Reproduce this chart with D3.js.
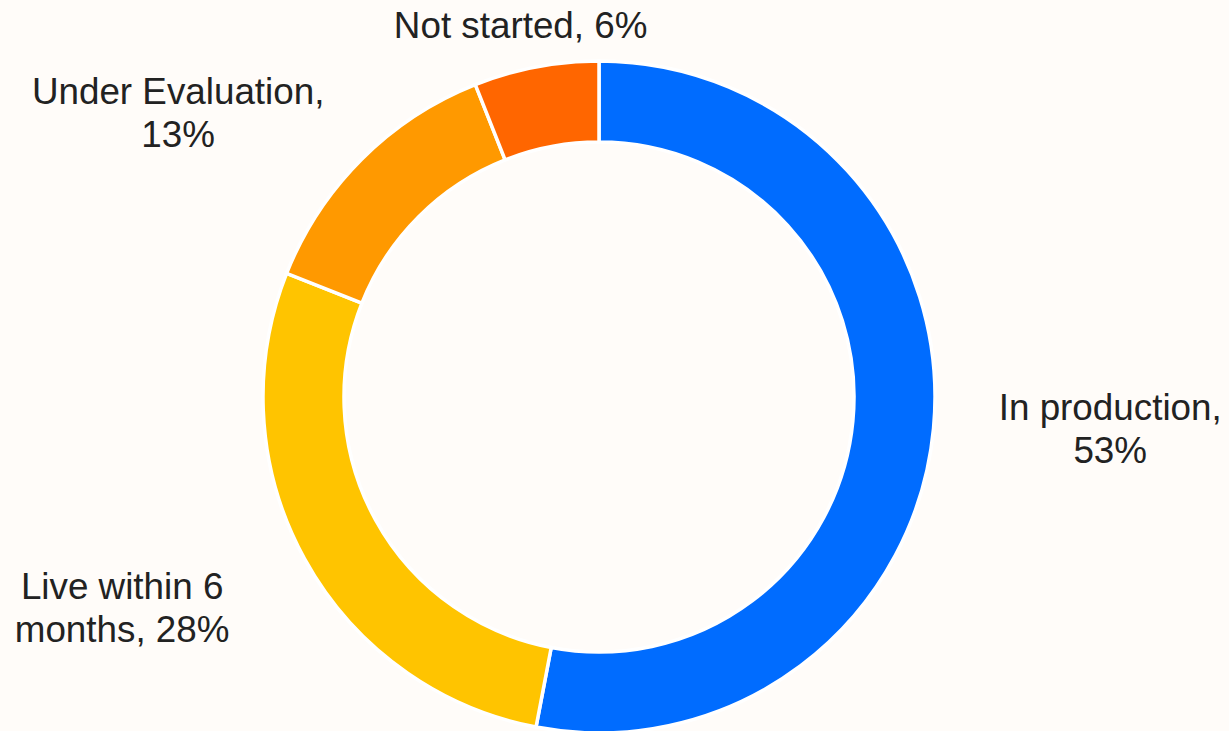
<!DOCTYPE html>
<html>
<head>
<meta charset="utf-8">
<script src="https://cdn.jsdelivr.net/npm/d3@7"></script>
<style>
  html, body { margin: 0; padding: 0; background: #FFFCF9; }
  svg { display: block; }
</style>
</head>
<body>
<svg id="chart" width="1229" height="731"></svg>
<script>
// ---- data ----
const categories = ["In production", "Live within 6 months", "Under Evaluation", "Not started"];
const values = [53, 28, 13, 6];
const labelLines = [
  ["In production,", "53%"],
  ["Live within 6", "months, 28%"],
  ["Under Evaluation,", "13%"],
  ["Not started, 6%"]
];
const colors = ["#006CFF", "#FFC400", "#FF9900", "#FF6600"];

// ---- layout ----
const W = 1229, H = 731;
const cx = 599, cy = 397;
const outerR = 336, innerR = 255;
const labelR = 398;
const fontSize = 36.8, lineH = 43;
// fine layout nudges for labels (manually placed in the original)
const labelNudge = [[4, -10], [-34, -2], [-36, 27], [20, 40]];

const svg = d3.select("#chart");
svg.append("rect").attr("width", W).attr("height", H).attr("fill", "#FFFCF9");

const color = d3.scaleOrdinal().domain(categories).range(colors);
const data = categories.map((c, i) => ({ cat: c, value: values[i], lines: labelLines[i], i }));

const pie = d3.pie().value(d => d.value).sort(null);
const arc = d3.arc().innerRadius(innerR).outerRadius(outerR);
const arcs = pie(data);

const g = svg.append("g").attr("transform", `translate(${cx},${cy})`);
g.selectAll("path")
  .data(arcs)
  .join("path")
  .attr("d", arc)
  .attr("fill", d => color(d.data.cat))
  .attr("stroke", "#FFFFFF")
  .attr("stroke-width", 3.5)
  .attr("stroke-linejoin", "miter");

// labels
const measure = svg.append("text")
  .attr("font-family", "'Liberation Sans', Arial, sans-serif")
  .attr("font-size", fontSize)
  .attr("visibility", "hidden");

arcs.forEach(a => {
  const th = (a.startAngle + a.endAngle) / 2;
  const s = Math.sin(th), c = Math.cos(th);
  const lines = a.data.lines;
  let w = 0;
  lines.forEach(l => { measure.text(l); w = Math.max(w, measure.node().getComputedTextLength()); });
  const h = lines.length * lineH;
  const px = labelR * s, py = -labelR * c;
  const nx = labelNudge[a.data.i][0], ny = labelNudge[a.data.i][1];
  const bx = cx + px + s * w / 2 + nx;
  const by = cy + py - c * h / 2 + ny;
  const t = svg.append("text")
    .attr("font-family", "'Liberation Sans', Arial, sans-serif")
    .attr("font-size", fontSize)
    .attr("fill", "#222222")
    .attr("text-anchor", "middle");
  lines.forEach((l, k) => {
    t.append("tspan")
      .attr("x", bx)
      .attr("y", by + 13 + (k - (lines.length - 1) / 2) * lineH)
      .text(l);
  });
});
measure.remove();
</script>
</body>
</html>
